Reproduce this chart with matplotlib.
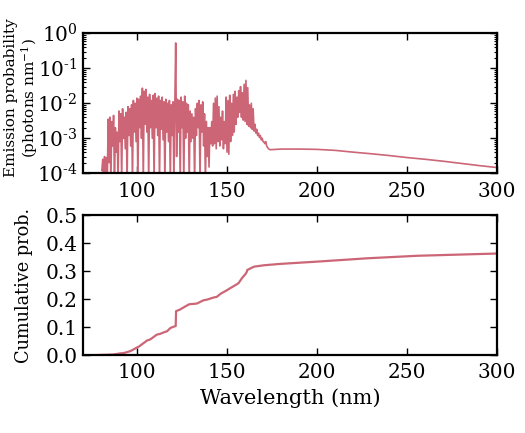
import numpy as np
import matplotlib
matplotlib.use("Agg")
import matplotlib.pyplot as plt
from matplotlib.ticker import FuncFormatter, LogLocator, FixedLocator

# ---- Emission spectrum, line-rich part (0.5 nm grid from 80.5 to 172.0 nm) ----
line_wl_start, line_wl_stop, line_wl_step = 80.5, 172.0, 0.5
line_prob = [
    1.2e-4, 2.5e-4, 6e-5, 3e-4, 8e-5, 2.8e-4, 5e-5, 3.5e-3, 2e-4, 4e-3,
    5e-5, 3e-3, 6e-4, 4.5e-3, 5e-5, 2e-3, 4e-4, 1.5e-3, 5e-5, 6e-3,
    8e-4, 5e-3, 6e-5, 7e-3, 1e-3, 4e-3, 5e-4, 5.5e-3, 5e-5, 8e-3,
    1.2e-3, 7e-3, 6e-4, 9e-3, 5e-5, 1.2e-2, 1.5e-3, 1.0e-2, 8e-4, 1.4e-2,
    5e-5, 1.3e-2, 2e-3, 1.6e-2, 1e-3, 2.7e-2, 5e-5, 2.2e-2, 2.5e-3, 2.5e-2,
    1.5e-3, 1.5e-2, 5e-5, 1.8e-2, 2e-3, 1.2e-2, 1e-3, 1.7e-2, 5e-5, 1.9e-2,
    2e-3, 1.4e-2, 1.2e-3, 1.6e-2, 5e-5, 1.2e-2, 1.8e-3, 1.5e-2, 9e-4, 1.1e-2,
    5e-5, 1.3e-2, 1.5e-3, 1.0e-2, 8e-4, 1.2e-2, 5e-5, 9e-3, 1.2e-3, 1.1e-2,
    5e-5, 8e-3, 5.3e-1, 3e-4, 1.3e-2, 1.5e-3, 1.2e-2, 5e-5, 1.5e-2, 2e-3,
    1.1e-2, 5e-5, 1.6e-2, 1e-3, 1.0e-2, 1.5e-3, 9e-3, 5e-5, 6e-3, 8e-4,
    5e-3, 1e-3, 4e-3, 5e-5, 7e-3, 1.2e-3, 1.0e-2, 2e-3, 1.2e-2, 5e-5,
    9e-3, 1.5e-3, 1.1e-2, 6e-4, 5e-3, 5e-5, 3e-3, 3e-4, 2e-3, 1.5e-4,
    2e-3, 7e-4, 3e-3, 6e-4, 1e-2, 7e-4, 1.4e-2, 5e-4, 1.6e-2, 8e-4,
    8e-3, 6e-4, 4e-3, 9e-4, 6e-3, 5e-4, 3e-3, 7e-4, 1.5e-2, 4e-4,
    1.2e-2, 3.5e-4, 1.7e-2, 8e-4, 1.0e-2, 1.2e-3, 1.8e-2, 1.5e-3, 2.2e-2, 2.5e-3,
    1.5e-2, 4e-3, 2.3e-2, 5.5e-3, 3e-2, 4e-3, 2e-2, 3.3e-3, 3.5e-2, 3e-3,
    4.5e-2, 2.5e-3, 2.8e-2, 2.2e-3, 9e-3, 2e-3, 1e-2, 1.8e-3, 7e-3, 1.6e-3,
    2.5e-3, 1.4e-3, 1.8e-3, 1.2e-3, 1.4e-3, 1.05e-3, 1.2e-3, 9e-4, 1.0e-3, 8e-4,
    7.8e-4, 7e-4, 8e-4, 6e-4,
]

# ---- Emission spectrum, smooth continuum part ----
cont_wl = [173, 174, 180, 190, 200, 210, 220, 230, 240, 250, 260, 270, 280, 290, 300]
cont_prob = [5.0e-4, 4.7e-4, 4.9e-4, 4.9e-4, 4.8e-4, 4.5e-4, 4.0e-4, 3.6e-4,
             3.2e-4, 2.8e-4, 2.5e-4, 2.2e-4, 1.9e-4, 1.65e-4, 1.45e-4]

# ---- Cumulative probability ----
cum_wl = [78, 87, 90.7, 92.6, 96.3, 100, 101, 105.6, 107.4, 111, 113, 114.8, 116.7,
          118.6, 121.5, 121.7, 124, 125, 128.8, 129.6, 133.2, 137, 138.8, 142.7,
          144.3, 146.4, 150, 152, 155.7, 156.5, 158.4, 159.2, 160.3, 161, 161.2,
          165, 170.5, 172.3, 179.7, 200, 228, 255.8, 300]
cum_prob = [0.0, 0.002, 0.006, 0.007, 0.014, 0.027, 0.030, 0.052, 0.056, 0.073,
            0.076, 0.081, 0.085, 0.097, 0.104, 0.157, 0.163, 0.167, 0.181, 0.182,
            0.184, 0.196, 0.198, 0.206, 0.208, 0.219, 0.232, 0.240, 0.254, 0.258,
            0.276, 0.282, 0.290, 0.298, 0.304, 0.316, 0.321, 0.322, 0.326, 0.334,
            0.346, 0.355, 0.363]

x_ticks = [100, 150, 200, 250, 300]
log_ticks = [1e-4, 1e-3, 1e-2, 1e-1, 1e0]
cum_ticks = [0.0, 0.1, 0.2, 0.3, 0.4, 0.5]

color = "#CC6677"

plt.rcParams.update({
    "font.family": ["DejaVu Serif"],
    "mathtext.fontset": "dejavuserif",
    "font.size": 14.5,
    "axes.linewidth": 1.6,
    "xtick.direction": "in",
    "ytick.direction": "in",
    "xtick.top": True,
    "ytick.right": True,
    "xtick.major.size": 5,
    "ytick.major.size": 5,
    "xtick.minor.size": 2.5,
    "ytick.minor.size": 2.5,
    "xtick.major.width": 1.0,
    "ytick.major.width": 1.0,
    "xtick.minor.width": 0.8,
    "ytick.minor.width": 0.8,
    "xtick.major.pad": 6,
    "ytick.major.pad": 4,
    "xtick.labelsize": 14.5,
    "ytick.labelsize": 14.5,
})

fig = plt.figure(figsize=(5.25, 4.33), dpi=100)
ax1 = fig.add_axes([0.158, 0.600, 0.789, 0.323])
ax2 = fig.add_axes([0.158, 0.180, 0.789, 0.323])

line_wl = np.arange(line_wl_start, line_wl_stop + line_wl_step / 2, line_wl_step)
wl_all = np.concatenate([line_wl, cont_wl])
prob_all = np.concatenate([line_prob, cont_prob])

ax1.plot(wl_all, prob_all, color=color, lw=1.2)
ax1.set_yscale("log")
ax1.set_ylim(1e-4, 1)
ax1.set_xlim(70, 300)
ax1.set_xticks(x_ticks)
ax1.yaxis.set_major_locator(FixedLocator(log_ticks))
ax1.yaxis.set_minor_locator(LogLocator(base=10, subs=np.arange(2, 10) * 1.0, numticks=20))


def log_fmt(v, pos):
    e = int(round(np.log10(v)))
    if e < 0:
        return r"$10^{\text{-}%d}$" % (-e)
    return r"$10^{%d}$" % e


ax1.yaxis.set_major_formatter(FuncFormatter(log_fmt))
ax1.set_ylabel("Emission probability\n(photons nm$^{-1}$)", fontsize=11.0,
               linespacing=1.1)
ax1.yaxis.set_label_coords(-0.103, 0.54)

ax2.plot(cum_wl, cum_prob, color=color, lw=1.6)
ax2.set_xlim(70, 300)
ax2.set_ylim(0, 0.5)
ax2.set_xticks(x_ticks)
ax2.set_yticks(cum_ticks)
ax2.set_ylabel("Cumulative prob.", fontsize=12.8)
ax2.yaxis.set_label_coords(-0.121, 0.5)
ax2.set_xlabel("Wavelength (nm)", fontsize=15, labelpad=4)

fig.savefig("out.png", dpi=100, facecolor="white")
